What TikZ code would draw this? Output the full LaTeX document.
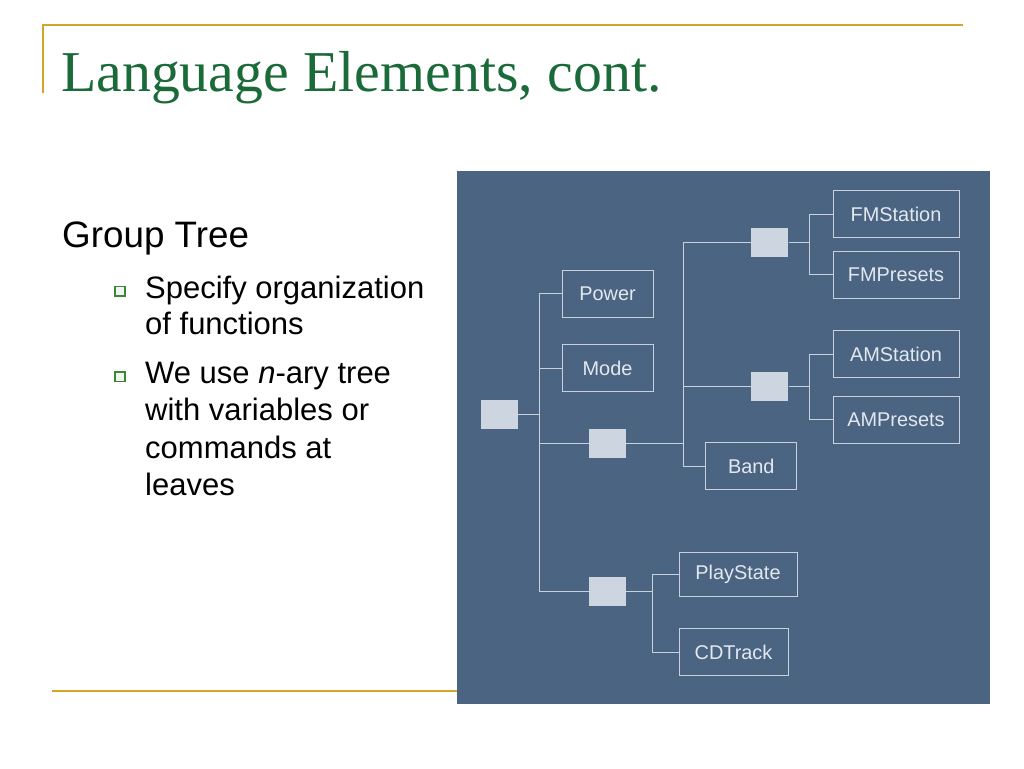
\documentclass[tikz,border=0pt]{standalone}
\usepackage{fontspec}
\setmainfont{Liberation Serif}
\setsansfont{Liberation Sans}
\usepackage{xcolor}
\usepackage{tikz}
\definecolor{panel}{RGB}{75,100,130}
\definecolor{boxfill}{RGB}{205,214,224}
\definecolor{wire}{RGB}{200,210,222}
\definecolor{leaftext}{RGB}{226,232,239}
\definecolor{titlegreen}{RGB}{26,106,58}
\definecolor{gold}{RGB}{212,165,42}
\definecolor{bulletgreen}{RGB}{60,135,55}
\tikzset{
  leaf/.style={draw=wire, line width=1pt, inner sep=0pt, text=leaftext,
    font=\sffamily\fontsize{19.9}{22}\selectfont, minimum height=47pt},
  joint/.style={fill=boxfill, inner sep=0pt, minimum width=37pt, minimum height=29pt},
  wiring/.style={draw=wire, line width=1pt},
  bodytext/.style={anchor=base west, inner sep=0pt, font=\sffamily\fontsize{31}{36}\selectfont},
  tick/.style={draw=bulletgreen, fill=bulletgreen!8, line width=1.2pt}
}
\begin{document}
\begin{tikzpicture}[x=1pt,y=-1pt]
				\useasboundingbox (0,0) rectangle (1024,768);
				\fill[white] (0,0) rectangle (1024,768);
				\draw[gold, line width=2pt] (42.7,93) -- (42.7,25) -- (963,25);
				\draw[gold, line width=2pt] (52,691) -- (457,691);
				\node[anchor=base west, inner sep=0pt, text=titlegreen, font=\fontsize{57.8}{60}\selectfont] (title) at (61,91.7) {Language Elements, cont.};
				\node[anchor=base west, inner sep=0pt, font=\sffamily\fontsize{36.8}{40}\selectfont] (group) at (62,247.3) {Group Tree};
				\draw[tick] (115,286.5) rectangle (125,296);
				\node[bodytext] (spec1) at (145,298) {Specify organization};
				\node[bodytext] (spec2) at (145,334.5) {of functions};
				\draw[tick] (115,372) rectangle (125,381.5);
				\node[bodytext] (use1) at (145,383.3) {We use \textit{n}-ary tree};
				\node[bodytext] (use2) at (145,420.7) {with variables or};
				\node[bodytext] (use3) at (145,458.5) {commands at};
				\node[bodytext] (use4) at (145,495.5) {leaves};
				\fill[panel] (457,171) rectangle (990,704);
				\node[joint] (root) at (499.5,414.5) {};
				\node[leaf, minimum width=91pt] (power) at (607.5,293.5) {Power};
				\node[leaf, minimum width=91pt] (mode) at (607.5,368) {Mode};
				\node[joint] (radio) at (607.3,443) {};
				\node[joint] (cd) at (607.3,591.5) {};
				\node[joint] (fm) at (769.8,242.3) {};
				\node[joint] (am) at (769.8,386.5) {};
				\node[leaf, minimum width=91pt] (band) at (751.3,466) {Band};
				\node[leaf, minimum width=126pt] (fmstation) at (896,214) {FMStation};
				\node[leaf, minimum width=126pt] (fmpresets) at (896,274.7) {FMPresets};
				\node[leaf, minimum width=126pt] (amstation) at (896,354) {AMStation};
				\node[leaf, minimum width=126pt] (ampresets) at (896,419.5) {AMPresets};
				\node[leaf, minimum width=118pt, minimum height=44pt] (playstate) at (738,574.3) {PlayState};
				\node[leaf, minimum width=109pt] (cdtrack) at (733.5,652.3) {CDTrack};
				\coordinate (rootbus) at (539,414.5);
				\coordinate (radiobus) at (683,443);
				\coordinate (fmbus) at (809.3,242.3);
				\coordinate (ambus) at (809.3,386.5);
				\coordinate (cdbus) at (652.3,591.5);
				\draw[wiring] (root) -- (rootbus);
				\draw[wiring] (rootbus) |- (power.west);
				\draw[wiring] (rootbus) |- (mode.west);
				\draw[wiring] (rootbus) |- (radio.west);
				\draw[wiring] (rootbus) |- (cd.west);
				\draw[wiring] (radio) -- (radiobus);
				\draw[wiring] (radiobus) |- (fm.west);
				\draw[wiring] (radiobus) |- (am.west);
				\draw[wiring] (radiobus) |- (band.west);
				\draw[wiring] (fm) -- (fmbus);
				\draw[wiring] (fmbus) |- (fmstation.west);
				\draw[wiring] (fmbus) |- (fmpresets.west);
				\draw[wiring] (am) -- (ambus);
				\draw[wiring] (ambus) |- (amstation.west);
				\draw[wiring] (ambus) |- (ampresets.west);
				\draw[wiring] (cd) -- (cdbus);
				\draw[wiring] (cdbus) |- (playstate.west);
				\draw[wiring] (cdbus) |- (cdtrack.west);
			\end{tikzpicture}
\end{document}
